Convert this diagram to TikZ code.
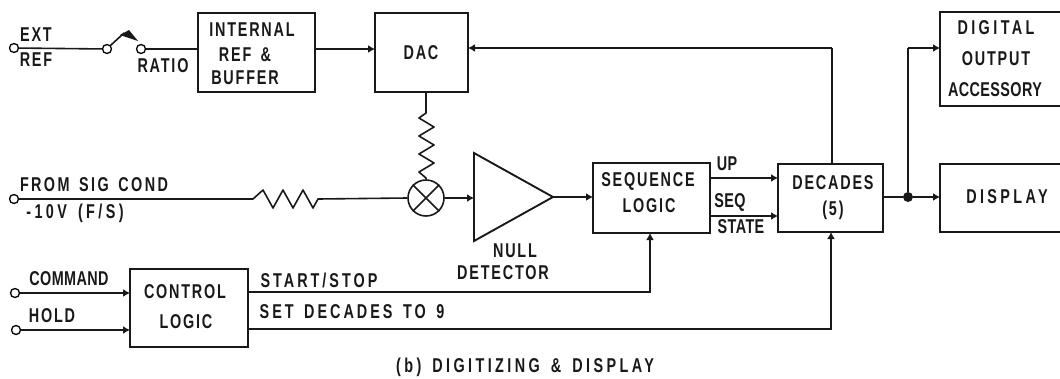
\documentclass[tikz,border=0pt]{standalone}
\usepackage{fontspec}
\setmainfont{Liberation Sans}
\newfontfamily\lbl{Liberation Sans Bold}[FakeStretch=0.72,LetterSpace=9,WordSpace=1.6]
\newfontfamily\lbln{Liberation Sans Bold}[FakeStretch=0.72,LetterSpace=2]
\newfontfamily\lblm{Liberation Sans Bold}[FakeStretch=0.72,LetterSpace=12,WordSpace=1.5]
\newfontfamily\lbls{Liberation Sans Bold}[FakeStretch=0.72,LetterSpace=15,WordSpace=1.5]
\newfontfamily\lblw{Liberation Sans Bold}[FakeStretch=0.72,LetterSpace=17,WordSpace=1.5]
\usetikzlibrary{arrows.meta,calc}
\tikzset{
  wire/.style={line width=1.6pt,black!90},
  arr/.style={wire,-{Latex[length=7pt,width=8pt]}},
  blockbox/.style={draw,line width=1.9pt,black!90,inner sep=0pt,outer sep=0pt,anchor=north west},
  lab/.style={font=\lbl\fontsize{20}{20}\selectfont,inner sep=0pt,text=black!90},
  labn/.style={font=\lbln\fontsize{20}{20}\selectfont,inner sep=0pt,text=black!90},
  labm/.style={font=\lblm\fontsize{20}{20}\selectfont,inner sep=0pt,text=black!90},
  labs/.style={font=\lbls\fontsize{20}{20}\selectfont,inner sep=0pt,text=black!90},
  labw/.style={font=\lblw\fontsize{20}{20}\selectfont,inner sep=0pt,text=black!90},
  term/.style={circle,draw,line width=1.3pt,fill=white,minimum size=9pt,inner sep=0pt},
}
\begin{document}
\begin{tikzpicture}[x=1pt,y=-1pt]
\useasboundingbox (0,0) rectangle (1060,378);
% blocks
\node[blockbox,minimum width=117pt,minimum height=79pt] (ref) at (198,13) {};
\node[blockbox,minimum width=93pt,minimum height=79pt] (dac) at (375,13) {};
\node[blockbox,minimum width=117pt,minimum height=70pt] (seq) at (593,163) {};
\node[blockbox,minimum width=105pt,minimum height=68pt] (dec) at (778,164) {};
\node[blockbox,minimum width=118pt,minimum height=78pt] (ctl) at (130,269) {};
\node[blockbox,minimum width=125pt,minimum height=94pt] (dig) at (940,12) {};
\node[blockbox,minimum width=125pt,minimum height=68pt] (dsp) at (940,164) {};
% amplifier and summing junction
\coordinate (ampa) at (474,153);
\coordinate (ampb) at (474,241);
\coordinate (ampt) at (553,197);
\draw[line width=1.9pt,black!90,line join=miter] (ampa) -- (ampt) -- (ampb) -- cycle;
\node[circle,draw,line width=1.6pt,black!90,minimum size=36pt,inner sep=0pt] (mult) at (426,198) {};
\draw[wire] (mult.north east) -- (mult.south west) (mult.north west) -- (mult.south east);
% terminals
\node[term] (text) at (14,48) {};
\node[term] (sw1) at (107,49) {};
\node[term] (sw2) at (141,49) {};
\node[term] (tsig) at (14,199) {};
\node[term] (tcmd) at (15,293) {};
\node[term] (thold) at (16,330) {};
\node[circle,fill=black!90,minimum size=10pt,inner sep=0pt] (jn) at (908,197) {};
% switch
\draw[wire] (text) -- (sw1);
\draw[wire] (sw2) -- (ref.west |- sw2);
\draw[wire] (sw1.north east) -- (124,33);
\fill[black!90] (120,35) -- (129,30) -- (138,41) -- cycle;
% connectors
\draw[arr] (ref.east |- 0,49) -- (dac.west |- 0,49);
\coordinate (fbk) at (832,48);
\draw[wire] (dec.north -| fbk) -- (fbk);
\draw[arr] (fbk) -- (dac.east |- fbk);
% vertical resistor
\coordinate (rva) at (426,113);
\coordinate (rvb) at (426,178);
\draw[wire,line join=round] (dac.south -| rva) -- (rva) -- ++(-7,5) -- ++(15,9) -- ++(-15,9) -- ++(15,9) -- ++(-15,9) -- ++(15,9) -- ++(-15,9) -- (rvb) -- (mult.north);
% horizontal resistor
\coordinate (rha) at (253,199);
\draw[wire,line join=round] (tsig) -- (rha) -- ++(10,-9) -- ++(10,18) -- ++(10,-18) -- ++(10,18) -- ++(10,-18) -- ++(10,18) -- ++(5,-9) -- (mult.west);
\draw[arr] (mult.east) -- (ampa |- mult);
\draw[arr] (ampt) -- (seq.west |- ampt);
\draw[arr] (seq.east |- 0,178) -- (dec.west |- 0,178);
\draw[arr] (seq.east |- 0,216) -- (dec.west |- 0,216);
\draw[wire] (dec.east |- jn) -- (jn);
\draw[arr] (jn) -- (dsp.west |- jn);
\coordinate (up) at (908,48);
\draw[wire] (jn) -- (up);
\draw[arr] (up) -- (dig.west |- up);
\draw[arr] (tcmd) -- (ctl.west |- tcmd);
\draw[arr] (thold) -- (ctl.west |- thold);
\coordinate (ss) at (650,292);
\coordinate (sd) at (831,329);
\draw[arr] (ctl.east |- ss) -- (ss) -- (seq.south -| ss);
\draw[arr] (ctl.east |- sd) -- (sd) -- (dec.south -| sd);
% labels
\node[lab] (l1) at (36,35) {EXT};
\node[lab] (l2) at (36,60) {REF};
\node[lab] (l3) at (163,66) {RATIO};
\node[lab] (l4) at (252,30) {INTERNAL};
\node[lab] (l5) at (245,55) {REF \&};
\node[lab] (l6) at (245,78) {BUFFER};
\node[lab] (l7) at (421,53) {DAC};
\node[labm] (l8) at (94,185) {FROM SIG COND};
\node[labw] (l9) at (75,213) {-10V (F/S)};
\node[lab] (l10) at (515,251) {NULL};
\node[lab] (l11) at (503,273) {DETECTOR};
\node[lab] (l12) at (648,181) {SEQUENCE};
\node[lab] (l13) at (649,206) {LOGIC};
\node[labn] (l14) at (727,164) {UP};
\node[labn] (l15) at (730,202) {SEQ};
\node[labn] (l16) at (741,227) {STATE};
\node[lab] (l17) at (833,183) {DECADES};
\node[lab] (l18) at (833,210) {(5)};
\node[labw] (l19) at (996,28) {DIGITAL};
\node[lab] (l20) at (996,59) {OUTPUT};
\node[labn] (l21) at (995,90) {ACCESSORY};
\node[labw] (l22) at (1007,197) {DISPLAY};
\node[labn] (l23) at (69,279) {COMMAND};
\node[lab] (l24) at (52,316) {HOLD};
\node[lab] (l25) at (185,292) {CONTROL};
\node[lab] (l26) at (186,322) {LOGIC};
\node[labs] (l27) at (319,280) {START/STOP};
\node[labs] (l28) at (352,312) {SET DECADES TO 9};
\node[labw] (l29) at (525,367) {(b) DIGITIZING \& DISPLAY};
\end{tikzpicture}
\end{document}
